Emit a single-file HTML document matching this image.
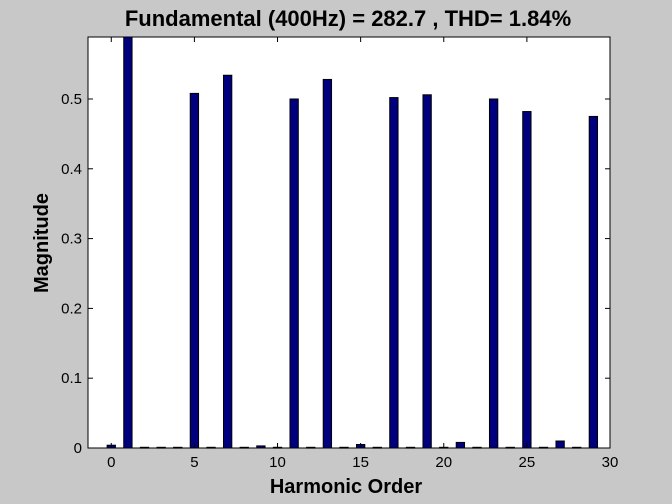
<!DOCTYPE html>
<html><head><meta charset="utf-8"><style>
html,body{margin:0;padding:0;background:#c8c8c8;}
svg{display:block;font-family:"Liberation Sans",Arial,sans-serif;}
</style></head><body>
<svg id="chart" width="672" height="504">
<rect x="0" y="0" width="672" height="504" fill="#c8c8c8"/>
<rect x="88" y="37" width="522" height="411" fill="#ffffff"/>
<g id="bars"></g>
<g id="axes"></g>
<rect x="88" y="37" width="522" height="411" fill="none" stroke="#000" stroke-width="1"/>
<text x="348" y="26" font-size="22" font-weight="bold" text-anchor="middle">Fundamental (400Hz) = 282.7 , THD= 1.84%</text>
<text x="346" y="493" font-size="20" font-weight="bold" text-anchor="middle">Harmonic Order</text>
<text transform="translate(48,243) rotate(-90)" font-size="20" font-weight="bold" text-anchor="middle">Magnitude</text>
</svg>
<script>
const orders = [0,1,2,3,4,5,6,7,8,9,10,11,12,13,14,15,16,17,18,19,20,21,22,23,24,25,26,27,28,29];
const magnitudes = [0.004,1.0,0.001,0.001,0.001,0.508,0.001,0.534,0.001,0.003,0.001,0.500,0.001,0.528,0.001,0.005,0.001,0.502,0.001,0.506,0.001,0.008,0.001,0.500,0.001,0.482,0.001,0.010,0.001,0.475];
const xTicks = [0,5,10,15,20,25,30];
const yTicks = [0,0.1,0.2,0.3,0.4,0.5];
const yTickLabels = ["0","0.1","0.2","0.3","0.4","0.5"];
const NS="http://www.w3.org/2000/svg";
const L=88,R=610,T=37,B=448,xmin=-1.4,xmax=30,ymax=0.5888;
const xs=v=>L+(v-xmin)/(xmax-xmin)*(R-L);
const ys=v=>B-v/ymax*(B-T);
const unit=(R-L)/(xmax-xmin);
const bars=document.getElementById('bars');
orders.forEach((o,i)=>{
  const v=Math.min(magnitudes[i],ymax);
  const r=document.createElementNS(NS,'rect');
  const w=unit*0.5;
  r.setAttribute('x',xs(o)-w/2);r.setAttribute('width',w);
  r.setAttribute('y',ys(v));r.setAttribute('height',Math.max(B-ys(v),0.8));
  r.setAttribute('fill','#00007f');r.setAttribute('stroke','#000');r.setAttribute('stroke-width','1');
  
  
  bars.appendChild(r);
});
const ax=document.getElementById('axes');
function line(x1,y1,x2,y2){const l=document.createElementNS(NS,'line');l.setAttribute('x1',x1);l.setAttribute('y1',y1);l.setAttribute('x2',x2);l.setAttribute('y2',y2);l.setAttribute('stroke','#000');return l;}
xTicks.forEach(t=>{
  const x=xs(t);
  const a=line(x,B,x,B-5);
  
  
  ax.appendChild(a);
  const b=line(x,T,x,T+5);
  
  
  ax.appendChild(b);
  const tx=document.createElementNS(NS,'text');
  tx.setAttribute('x',x);tx.setAttribute('y',B+19);tx.setAttribute('font-size','15');tx.setAttribute('text-anchor','middle');
  tx.textContent=t;
  
  
  ax.appendChild(tx);
});
yTicks.forEach((t,i)=>{
  const y=ys(t);
  const a=line(L,y,L+5,y);
  
  
  ax.appendChild(a);
  const b=line(R,y,R-5,y);
  
  
  ax.appendChild(b);
  const tx=document.createElementNS(NS,'text');
  tx.setAttribute('x',L-6);tx.setAttribute('y',y+5);tx.setAttribute('font-size','15');tx.setAttribute('text-anchor','end');
  tx.textContent=yTickLabels[i];
  
  
  ax.appendChild(tx);
});
</script>
</body></html>
